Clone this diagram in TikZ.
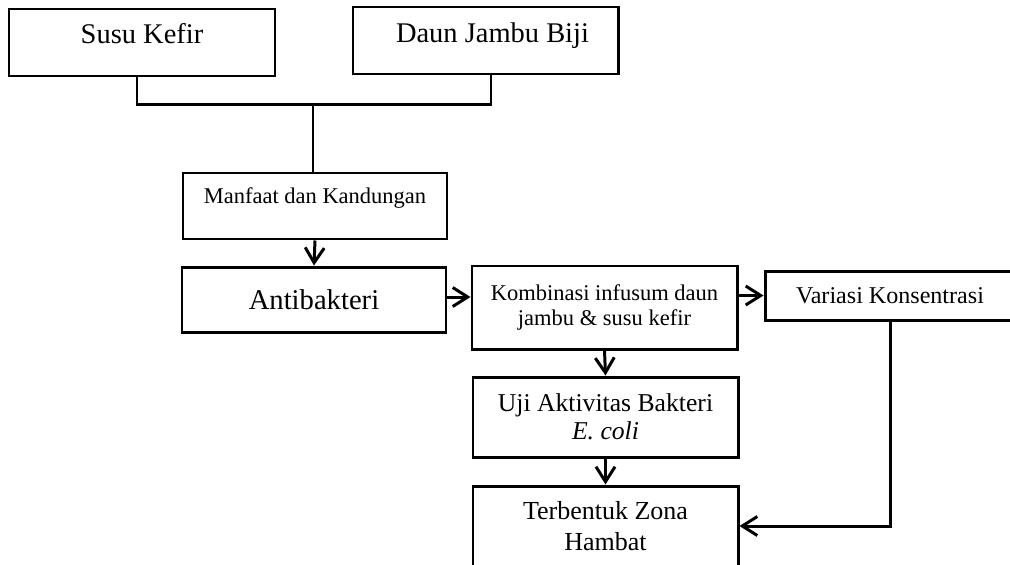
\documentclass[tikz,border=0pt]{standalone}
\usepackage{fontspec}
\setmainfont{Liberation Serif}
\usetikzlibrary{positioning,calc,arrows.meta}

\begin{document}
\begin{tikzpicture}[
    box/.style = {draw, line width=1.7pt, inner sep=0pt, align=center},
    link/.style = {line width=1.7pt},
    arrow/.style = {line width=1.7pt, -{Straight Barb[length=0.3cm, width=0.38cm, line width=1.7pt]}}
    ]
    \useasboundingbox (0, 0) rectangle (20.2, -11.28);
    % SOURCES
    \node[box, anchor=base, minimum width=5.32cm, text height=0.68cm, text depth=0.66cm,
        font=\fontsize{16.2}{18}\selectfont] (susu) at (2.84, -0.86) {Susu Kefir};
    \node[box, anchor=base, minimum width=5.30cm, text height=0.70cm, text depth=0.64cm,
        font=\fontsize{16.2}{18}\selectfont] (daun) at (9.71, -0.84) {\hspace{0.28cm}Daun Jambu Biji};
    \node[box, anchor=base, minimum width=5.28cm, text height=0.60cm, text depth=0.72cm,
        font=\fontsize{12.8}{15}\selectfont] (manfaat) at (6.30, -4.06) {Manfaat dan Kandungan};
    % MAIN FLOW
    \node[box, minimum width=5.28cm, minimum height=1.30cm,
        font=\fontsize{16.3}{19}\selectfont] (antibakteri) at (6.28, -5.99) {Antibakteri};
    \node[box, minimum width=5.30cm, minimum height=1.66cm,
        font=\fontsize{12.8}{14.2}\selectfont] (kombinasi) at (12.09, -6.15) {Kombinasi infusum daun\\jambu \& susu kefir};
    \node[box, minimum width=5.00cm, minimum height=0.98cm,
        font=\fontsize{13.7}{16}\selectfont] (variasi) at (17.80, -5.91) {Variasi Konsentrasi};
    \node[box, minimum width=5.30cm, minimum height=1.60cm,
        font=\fontsize{14.6}{16}\selectfont] (uji) at (12.11, -8.34) {Uji Aktivitas Bakteri\\\textit{E. coli}};
    \node[box, minimum width=5.30cm, minimum height=1.60cm,
        font=\fontsize{14.8}{17.6}\selectfont] (zona) at (12.11, -10.52) {Terbentuk Zona\\Hambat};
    % CONNECTORS
    \coordinate (join) at ($(manfaat.north) + (-0.04, 1.34)$);
    \draw[link] ([xshift=-0.10cm]susu.south) |- (join) -| ([xshift=0.11cm]daun.south);
    \draw[link] (join) -- (join |- manfaat.north);
    \draw[arrow] (manfaat.south) -- (antibakteri.north);
    \draw[arrow] ([yshift=0.05cm]antibakteri.east) -- ([yshift=0.05cm]antibakteri.east -| kombinasi.west);
    \draw[arrow] (variasi.west -| kombinasi.east) -- (variasi.west);
    \draw[arrow] (kombinasi.south) -- (uji.north);
    \draw[arrow] (uji.south) -- (zona.north);
    \draw[arrow] (variasi.south) |- (zona.east);
\end{tikzpicture}
\end{document}
